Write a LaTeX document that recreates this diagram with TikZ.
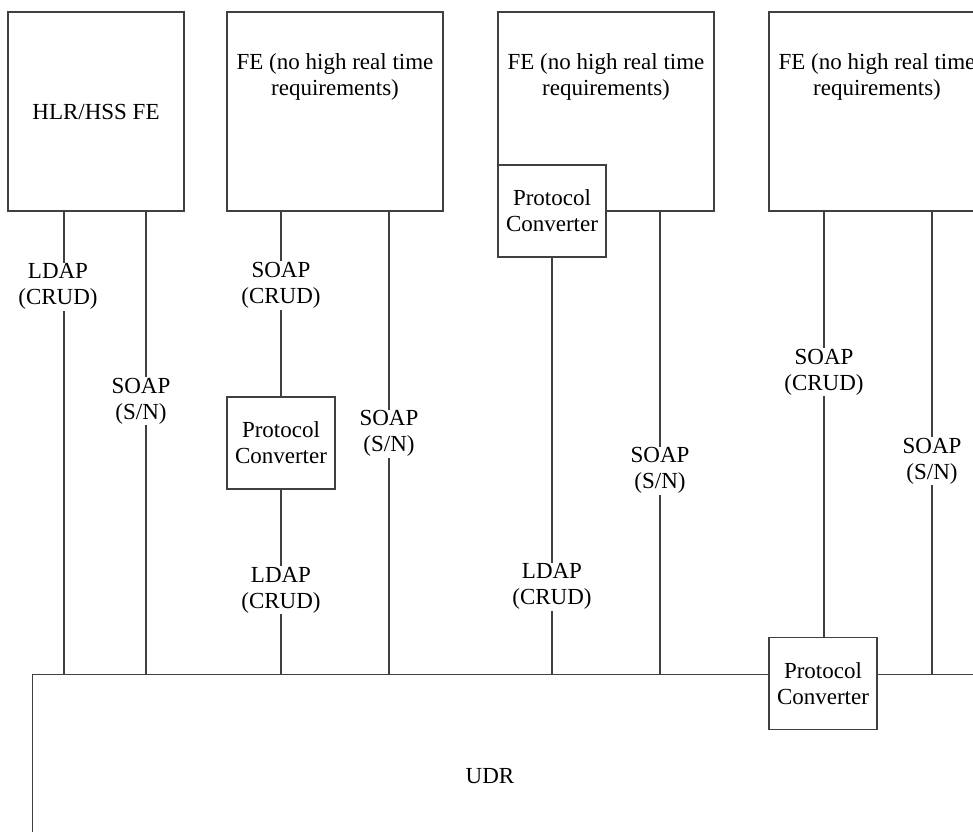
\documentclass[tikz,border=0pt]{standalone}
\usepackage{fontspec}
\setmainfont{Liberation Serif}
\usetikzlibrary{positioning}
\begin{document}
\begin{tikzpicture}[x=1pt,y=-1pt,line width=1.3pt,
	font=\fontsize{23}{26}\selectfont,
	box/.style={draw=black!75,fill=white,inner sep=0pt},
	fe/.style={box,minimum width=216pt,minimum height=199pt},
	conv/.style={box,minimum width=108pt,minimum height=92pt,align=center},
	proto/.style={fill=white,inner sep=1pt,align=center},
	link/.style={draw=black!75}]
	\useasboundingbox (0,0) rectangle (973,831);
	\clip (0,0) rectangle (973,831);
	% the UDR
	\node[box,anchor=north west,minimum width=1000pt,minimum height=200pt] (udr) at (32,674) {};
	\node (udrt) at (490,776) {UDR};
	% front ends
	\node[fe,minimum width=176pt] (hlr) at (96,111.5) {HLR/HSS FE};
	\node[fe] (fea) at (335,111.5) {};
	\node[fe] (feb) at (606,111.5) {};
	\node[fe] (fec) at (877,111.5) {};
	\foreach \n/\x in {feat/335,febt/606,fect/877}
		\node[align=center] (\n) at (\x,77) {FE (no high real time\\requirements)};
	% link positions
	\coordinate (a1) at (64,0);\coordinate (a2) at (146,0);
	\coordinate (b1) at (281,0);\coordinate (b2) at (389,0);
	\coordinate (c1) at (552,0);\coordinate (c2) at (660,0);
	\coordinate (d1) at (824,0);\coordinate (d2) at (932,0);
	% protocol converters
	\node[conv] (pca) at (281,443) {Protocol\\Converter};
	\node[conv] (pcb) at (552,211) {Protocol\\Converter};
	% links
	\draw[link] (hlr.south -| a1) -- (udr.north -| a1) node[proto,pos=0.162,xshift=-6pt] {LDAP\\(CRUD)};
	\draw[link] (hlr.south -| a2) -- (udr.north -| a2) node[proto,pos=0.41,xshift=-5pt] {SOAP\\(S/N)};
	\draw[link] (fea.south -| b1) -- (pca.north) node[proto,pos=0.4] {SOAP\\(CRUD)};
	\draw[link] (pca.south) -- (udr.north -| b1) node[proto,pos=0.545] {LDAP\\(CRUD)};
	\draw[link] (fea.south -| b2) -- (udr.north -| b2) node[proto,pos=0.48] {SOAP\\(S/N)};
	\draw[link] (pcb.south) -- (udr.north -| c1) node[proto,pos=0.79] {LDAP\\(CRUD)};
	\draw[link] (feb.south -| c2) -- (udr.north -| c2) node[proto,pos=0.56] {SOAP\\(S/N)};
	\draw[link] (fec.south -| d2) -- (udr.north -| d2) node[proto,pos=0.54] {SOAP\\(S/N)};
	\node[conv] (pcc) at (823,683.5) {Protocol\\Converter};
	\draw[link] (fec.south -| d1) -- (pcc.north -| d1) node[proto,pos=0.378] {SOAP\\(CRUD)};
\end{tikzpicture}
\end{document}
